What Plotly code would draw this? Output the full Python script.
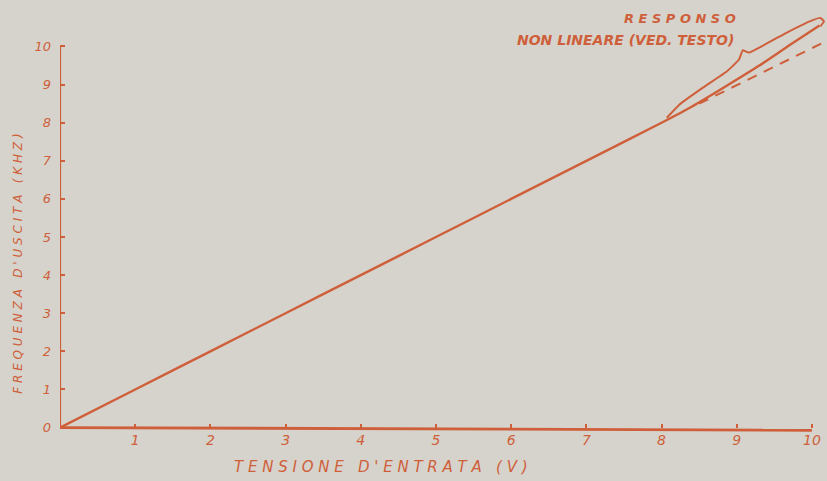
import plotly.graph_objects as go

# Linear voltage-to-frequency converter: output frequency vs input voltage
tensione = [0, 1, 2, 3, 4, 5, 6, 7, 8, 8.4, 8.85, 9.3, 9.75, 10.1]
frequenza = [0, 1, 2, 3, 4, 5, 6, 7, 8, 8.42, 8.95, 9.5, 10.1, 10.55]

# Ideal linear response continued past the non-linear region (dashed)
ideale_x = [8.5, 10.25]
ideale_y = [8.5, 10.2]

# Brace marking the non-linear stretch of the response
graffa_x = [8.07, 8.24, 8.55, 8.87, 9.03, 9.08, 9.16, 9.66, 9.97, 10.11, 10.16, 10.11]
graffa_y = [8.13, 8.48, 8.92, 9.35, 9.66, 9.9, 9.84, 10.36, 10.66, 10.75, 10.66, 10.53]

x_ticks = [1, 2, 3, 4, 5, 6, 7, 8, 9, 10]
y_ticks = [0, 1, 2, 3, 4, 5, 6, 7, 8, 9, 10]

INK = "#cf5f3a"
PAPER = "#d6d3cc"
FONT = "DejaVu Sans"

Y_MIN, Y_MAX = -0.3, 11.22

fig = go.Figure()

# axis strokes
fig.add_trace(go.Scatter(x=[0, 0], y=[0, 10], mode="lines",
                         line=dict(color=INK, width=2.2), hoverinfo="skip"))
fig.add_trace(go.Scatter(x=[0, 10], y=[0, -0.07], mode="lines",
                         line=dict(color=INK, width=2.8), hoverinfo="skip"))

fig.add_trace(go.Scatter(x=ideale_x, y=ideale_y, mode="lines",
                         line=dict(color=INK, width=2, dash="10px,8px"), hoverinfo="skip"))
fig.add_trace(go.Scatter(x=graffa_x, y=graffa_y, mode="lines",
                         line=dict(color=INK, width=2, shape="spline", smoothing=0.4),
                         hoverinfo="skip"))
fig.add_trace(go.Scatter(x=tensione, y=frequenza, mode="lines",
                         line=dict(color=INK, width=2.4, shape="spline", smoothing=0.5)))

fig.update_layout(
    width=827, height=481,
    margin=dict(l=60, r=0, t=0, b=42),
    paper_bgcolor=PAPER, plot_bgcolor=PAPER,
    showlegend=False,
    font=dict(family=FONT, color=INK),
    xaxis=dict(range=[0, 10.2], showgrid=False, zeroline=False, showline=False,
               anchor="free", position=(0 - Y_MIN) / (Y_MAX - Y_MIN),
               tickvals=x_ticks, ticktext=[str(v) for v in x_ticks],
               ticks="inside", ticklen=4, tickwidth=1.5, tickcolor=INK,
               ticklabelstandoff=2,
               tickfont=dict(family=FONT, size=14, color=INK, style="italic")),
    yaxis=dict(range=[Y_MIN, Y_MAX], showgrid=False, zeroline=False, showline=False,
               tickvals=y_ticks, ticktext=[str(v) for v in y_ticks],
               ticks="inside", ticklen=5, tickwidth=1.5, tickcolor=INK,
               ticklabelstandoff=8,
               tickfont=dict(family=FONT, size=13, color=INK, style="italic")),
    annotations=[
        dict(text="T E N S I O N E   D ' E N T R A T A   ( V )", xref="x", yref="paper",
             x=4.27, y=0, yanchor="middle", yshift=-28, showarrow=False,
             font=dict(family=FONT, size=15, color=INK, style="italic")),
        dict(text="F R E Q U E N Z A   D ' U S C I T A   ( K H Z )", xref="paper", yref="y",
             x=0, xanchor="center", xshift=-42, y=4.3, textangle=-90, showarrow=False,
             font=dict(family=FONT, size=12, color=INK, style="italic")),
        dict(text="<b>R E S P O N S O</b>", xref="x", yref="y", x=8.25, y=10.73,
             showarrow=False, font=dict(family=FONT, size=13, color=INK, style="italic")),
        dict(text="<b>NON LINEARE (VED. TESTO)</b>", xref="x", yref="y", x=7.52, y=10.18,
             showarrow=False, font=dict(family=FONT, size=14, color=INK, style="italic")),
    ],
)

fig.write_html("out.html")
